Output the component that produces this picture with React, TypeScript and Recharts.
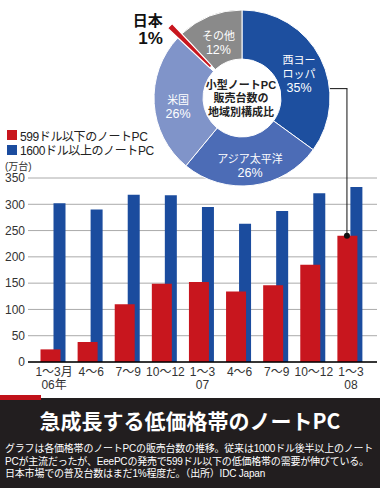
import React from 'react';
import { BarChart, Bar, XAxis, YAxis, CartesianGrid, ReferenceDot, ReferenceLine, PieChart, Pie, Cell } from 'recharts';

const FONT = "'Liberation Sans', 'Noto Sans CJK JP', sans-serif";

// bar chart data (万台)
const quarters = ['06Q1', '06Q2', '06Q3', '06Q4', '07Q1', '07Q2', '07Q3', '07Q4', '08Q1'];
const quarterLabels = ['1〜3月', '4〜6', '7〜9', '10〜12', '1〜3', '4〜6', '7〜9', '10〜12', '1〜3'];
const yearLabels = ['06年', '', '', '', '07', '', '', '', '08'];
const lowPrice = [24, 38, 110, 149, 152, 134, 146, 185, 240];
const highPrice = [302, 290, 318, 317, 295, 263, 287, 321, 333];
const yTicks = [0, 50, 100, 150, 200, 250, 300, 350];
const seriesNames = ['599ドル以下のノートPC', '1600ドル以上のノートPC'];
const seriesColors = ['#c8161e', '#1b4c9e'];

// pie data (%)
const regions = ['西ヨーロッパ', 'アジア太平洋', '米国', '日本', 'その他'];
const shares = [35, 26, 26, 1, 12];
const regionColors = ['#1d4f9f', '#4c6cb6', '#8094c9', '#c8161e', '#8a8a8a'];
const regionLabelLines = [['西ヨー', 'ロッパ'], ['アジア太平洋'], ['米国'], ['日本'], ['その他']];
const centerLines = ['小型ノートPC', '販売台数の', '地域別構成比'];

const barData = quarters.map((q, i) => ({ q, low: lowPrice[i], high: highPrice[i] }));
const pieData = regions.map((name, i) => ({ name, value: shares[i] }));

// layout
const PLOT_TOP = 178;
const PLOT_BOTTOM = 362;
const PLOT_LEFT = 28;
const PLOT_RIGHT = 377;
const SHIFT = 9;
const PAD_L = 3.5;
const PAD_R = 2.5;
const BAND = (PLOT_RIGHT - PLOT_LEFT - PAD_L - PAD_R - SHIFT) / quarters.length;
const PIE_CX = 242;
const PIE_CY = 98;
const PIE_R = 88;
const LEADER_TOP = 520; // in 万台 units, above the plot
const leaderY = PLOT_BOTTOM - (LEADER_TOP / 350) * (PLOT_BOTTOM - PLOT_TOP);
const leaderX = PLOT_LEFT + PAD_L + BAND * (quarters.length - 0.5);
const RAD = Math.PI / 180;

const QuarterTick = (props: any) => {
    const { x, payload } = props;
    const i = payload.index;
    const cx = x + 4;
    return (
        <text x={cx} y={PLOT_BOTTOM} textAnchor="middle" fontSize={12} fill="#333" fontFamily={FONT}>
            <tspan x={cx} dy={14}>{quarterLabels[i]}</tspan>
            {yearLabels[i] ? <tspan x={cx} dy={13}>{yearLabels[i]}</tspan> : null}
        </text>
    );
};

const sliceLabel = (p: any) => {
    if (regions[p.index] === '日本') return null;
    const r = 64;
    const x = p.cx + r * Math.cos(-p.midAngle * RAD);
    const y = p.cy + r * Math.sin(-p.midAngle * RAD) + 5;
    const lines = [...regionLabelLines[p.index], `${p.value}%`];
    const start = -((lines.length - 1) * 14) / 2;
    return (
        <text x={x} y={y} textAnchor="middle" dominantBaseline="central" fill="#fff" fontFamily={FONT}>
            {lines.map((l, k) => (
                <tspan key={k} x={x} dy={k === 0 ? start : 14} fontSize={k === lines.length - 1 ? 12.5 : 11}>{l}</tspan>
            ))}
        </text>
    );
};

// Japan callout + the title in the hole
const overlayLabel = (p: any) => {
    if (p.index === 0) {
        const x = p.cx - 1;
        const y = p.cy;
        return (
            <text x={x} y={y} textAnchor="middle" dominantBaseline="central" fill="#222" fontSize={11} fontWeight={700} fontFamily={FONT}>
                {centerLines.map((l, k) => (
                    <tspan key={k} x={x} dy={k === 0 ? -13.5 : 13.5}>{l}</tspan>
                ))}
            </text>
        );
    }
    if (regions[p.index] !== '日本') return null;
    const r = p.outerRadius + 10;
    const x = p.cx + r * Math.cos(-p.midAngle * RAD);
    const y = p.cy + r * Math.sin(-p.midAngle * RAD);
    return (
        <text x={x} y={y} textAnchor="end" dominantBaseline="central" fill="#111" fontWeight={700} fontFamily={FONT}>
            <tspan x={x} dy={1} fontSize={15}>{regionLabelLines[p.index][0]}</tspan>
            <tspan x={x} dy={18} fontSize={17}>{`${p.value}%`}</tspan>
        </text>
    );
};

export default function App() {
    return (
        <div style={{ position: 'absolute', left: 0, top: 0, width: 380, height: 488, background: '#fff', overflow: 'hidden', fontFamily: FONT }}>
            {/* Bar chart */}
            <div style={{ position: 'absolute', left: 0, top: 0 }}>
                <BarChart width={380} height={398} data={barData} margin={{ top: PLOT_TOP, right: 380 - PLOT_RIGHT, bottom: 0, left: 0 }}>
                    <CartesianGrid xAxisId="low" vertical={false} stroke="#aaa" />
                    <XAxis
                        xAxisId="low"
                        dataKey="q"
                        height={36}
                        padding={{ left: PAD_L, right: PAD_R + SHIFT }}
                        interval={0}
                        tickLine={false}
                        tickSize={0}
                        tickMargin={0}
                        axisLine={{ stroke: '#000', strokeWidth: 1.5 }}
                        tick={<QuarterTick />}
                    />
                    <XAxis xAxisId="high" dataKey="q" hide height={0} padding={{ left: PAD_L + SHIFT, right: PAD_R }} />
                    <YAxis
                        domain={[0, 350]}
                        ticks={yTicks}
                        width={PLOT_LEFT}
                        axisLine={false}
                        tickLine={false}
                        tickSize={0}
                        tickMargin={3}
                        tick={{ fontSize: 12, fill: '#333', fontFamily: FONT }}
                    />
                    <Bar xAxisId="high" dataKey="high" name={seriesNames[1]} fill={seriesColors[1]} barSize={12} isAnimationActive={false} />
                    <Bar xAxisId="low" dataKey="low" name={seriesNames[0]} fill={seriesColors[0]} barSize={20} isAnimationActive={false} />
                    <ReferenceLine
                        xAxisId="low"
                        segment={[{ x: quarters[8], y: lowPrice[8] }, { x: quarters[8], y: LEADER_TOP }]}
                        stroke="#111"
                        strokeWidth={1}
                        ifOverflow="visible"
                    />
                    <ReferenceDot xAxisId="low" x={quarters[8]} y={lowPrice[8]} r={3} fill="#111" stroke="none" ifOverflow="visible" />
                </BarChart>
            </div>

            {/* leader from pie to the last red bar */}
            <svg width={380} height={200} style={{ position: 'absolute', left: 0, top: 0 }}>
                <line
                    x1={PIE_CX + Math.sqrt(PIE_R * PIE_R - (PIE_CY - leaderY) ** 2)}
                    y1={leaderY}
                    x2={leaderX + 0.5}
                    y2={leaderY}
                    stroke="#111"
                    strokeWidth={1}
                />
            </svg>

            {/* Pie chart */}
            <div style={{ position: 'absolute', left: 0, top: 0 }}>
                <PieChart width={380} height={200} margin={{ top: 0, right: 0, bottom: 0, left: 0 }}>
                    <Pie
                        data={pieData}
                        dataKey="value"
                        nameKey="name"
                        cx={PIE_CX}
                        cy={PIE_CY}
                        innerRadius={39}
                        outerRadius={PIE_R}
                        startAngle={90}
                        endAngle={-270}
                        stroke="#fff"
                        strokeWidth={1}
                        label={sliceLabel}
                        labelLine={false}
                        isAnimationActive={false}
                    >
                        {pieData.map((d, i) => (
                            <Cell key={d.name} fill={d.name === '日本' ? '#fff' : regionColors[i]} />
                        ))}
                    </Pie>
                    <Pie
                        data={pieData}
                        dataKey="value"
                        nameKey="name"
                        cx={PIE_CX}
                        cy={PIE_CY}
                        innerRadius={44}
                        outerRadius={102}
                        startAngle={90}
                        endAngle={-270}
                        label={overlayLabel}
                        labelLine={false}
                        isAnimationActive={false}
                    >
                        {pieData.map((d, i) => (
                            <Cell
                                key={d.name}
                                fill={d.name === '日本' ? regionColors[i] : 'none'}
                                stroke={d.name === '日本' ? '#fff' : 'none'}
                                strokeWidth={1.2}
                            />
                        ))}
                    </Pie>
                </PieChart>
            </div>

            {/* legend */}
            <div style={{ position: 'absolute', left: 7, top: 128, fontSize: 12, color: '#222', letterSpacing: -0.4 }}>
                {[0, 1].map((k) => (
                    <div key={k} style={{ display: 'flex', alignItems: 'center', height: 14.5 }}>
                        <span style={{ display: 'inline-block', width: 10, height: 10, background: seriesColors[k], marginRight: 3 }} />
                        <span>{seriesNames[k]}</span>
                    </div>
                ))}
            </div>
            <div style={{ position: 'absolute', left: 5, top: 158, fontSize: 10, color: '#333' }}>(万台)</div>

            {/* caption block */}
            <div style={{ position: 'absolute', left: 0, top: 398, width: 380, height: 90, background: '#221e1f' }} />
            <div style={{ position: 'absolute', left: 0, top: 395, width: 41, height: 5, background: '#c1121a' }} />
            <div style={{ position: 'absolute', left: 0, top: 405, width: 380, textAlign: 'center', fontSize: 21, fontWeight: 700, color: '#fff', lineHeight: '30px', fontFamily: "'Noto Sans CJK JP', sans-serif" }}>
                急成長する低価格帯のノートPC
            </div>
            <div style={{ position: 'absolute', left: 5, top: 443, width: 375, fontSize: 10, lineHeight: '12.5px', color: '#fff', whiteSpace: 'nowrap', letterSpacing: -0.2 }}>
                <div>グラフは各価格帯のノートPCの販売台数の推移。従来は1000ドル後半以上のノート</div>
                <div>PCが主流だったが、EeePCの発売で599ドル以下の低価格帯の需要が伸びている。</div>
                <div>日本市場での普及台数はまだ1%程度だ。（出所）IDC Japan</div>
            </div>
        </div>
    );
}
